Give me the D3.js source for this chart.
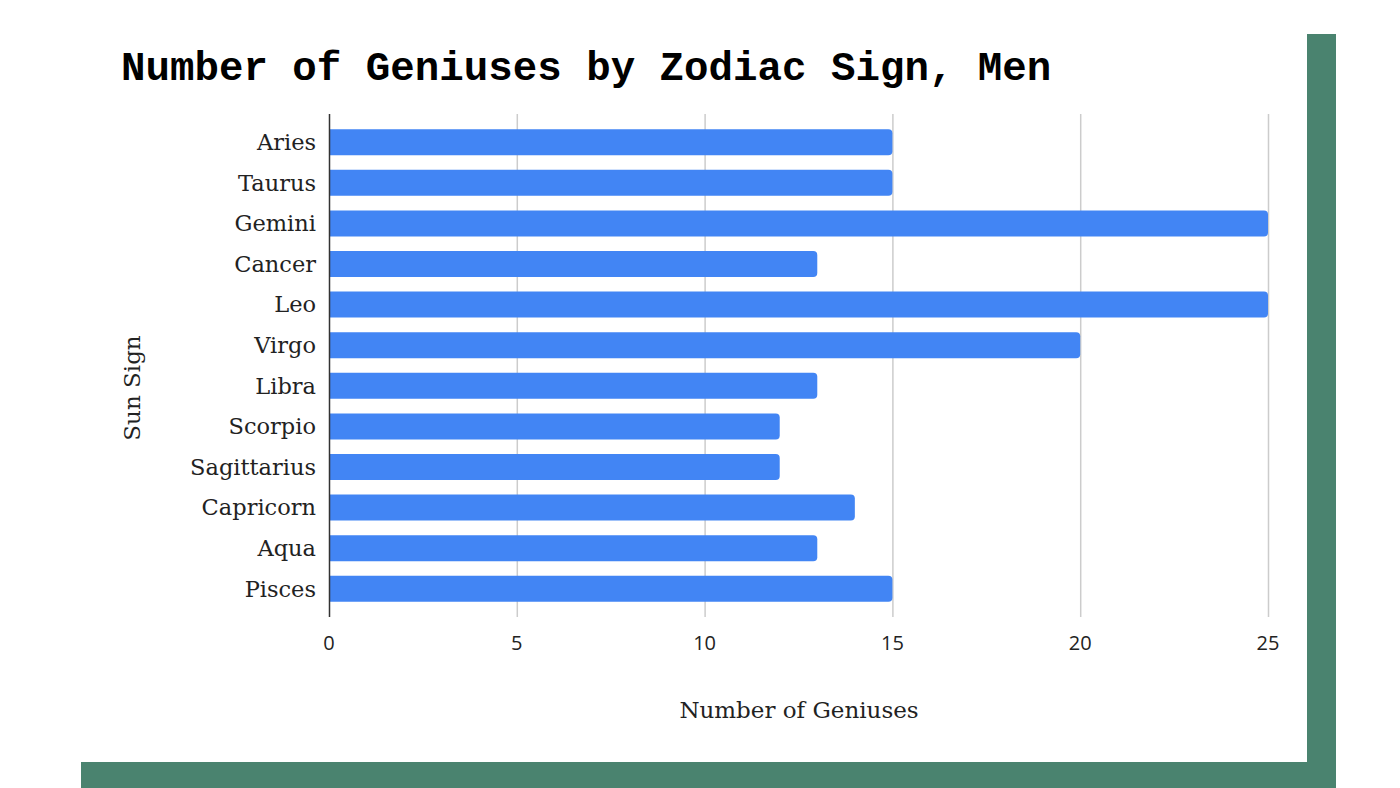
<!DOCTYPE html>
<html>
<head>
<meta charset="utf-8">
<script src="https://cdn.jsdelivr.net/npm/d3@7"></script>
<style>
  body { margin: 0; background: #fff; }
  .cat-label { font-family: "DejaVu Serif", serif; font-size: 22.5px; fill: #222; }
  .tick-label { font-family: "Open Sans", sans-serif; font-size: 20px; fill: #222; }
  .axis-title { font-family: "DejaVu Serif", serif; font-size: 23px; fill: #222; }
  .title { font-family: "Liberation Mono", monospace; font-weight: bold; font-size: 40.8px; fill: #000; }
</style>
</head>
<body>
<div id="chart"></div>
<script>
// data
const signs = ["Aries", "Taurus", "Gemini", "Cancer", "Leo", "Virgo", "Libra",
  "Scorpio", "Sagittarius", "Capricorn", "Aqua", "Pisces"];
const geniuses = [15, 15, 25, 13, 25, 20, 13, 12, 12, 14, 13, 15];
const xTicks = [0, 5, 10, 15, 20, 25];

const W = 1400, H = 788;
const margin = {top: 114, right: 132, bottom: 171, left: 329};

const svg = d3.select("#chart").append("svg")
  .attr("width", W)
  .attr("height", H);

// green frame strips (right and bottom)
const green = "#4a836f";
svg.append("rect").attr("x", 1307).attr("y", 34).attr("width", 29).attr("height", H - 34).attr("fill", green);
svg.append("rect").attr("x", 81).attr("y", 762).attr("width", 1336 - 81).attr("height", H - 762).attr("fill", green);

svg.append("text")
  .attr("class", "title")
  .attr("x", 121)
  .attr("y", 80)
  .text("Number of Geniuses by Zodiac Sign, Men");

const x = d3.scaleLinear()
  .domain([0, 25])
  .range([margin.left, 1268]);

const y = d3.scaleBand()
  .domain(signs)
  .range([margin.top, H - margin.bottom])        // 114 .. 617
  .paddingInner(0.36)
  .paddingOuter(0.375);

// vertical gridlines
svg.append("g")
  .selectAll("line")
  .data(xTicks.filter(d => d > 0))
  .join("line")
  .attr("x1", d => x(d) + 0.5)
  .attr("x2", d => x(d) + 0.5)
  .attr("y1", margin.top)
  .attr("y2", H - margin.bottom)
  .attr("stroke", "#cccccc")
  .attr("stroke-width", 1.5);

// bars with rounded right end
const r = 4;
svg.append("g")
  .selectAll("path")
  .data(signs.map((s, i) => ({sign: s, value: geniuses[i]})))
  .join("path")
  .attr("fill", "#4285f4")
  .attr("d", d => {
    const x0 = x(0) + 1, x1 = x(d.value), y0 = y(d.sign), h = y.bandwidth();
    return `M${x0},${y0} H${x1 - r} Q${x1},${y0} ${x1},${y0 + r} V${y0 + h - r} Q${x1},${y0 + h} ${x1 - r},${y0 + h} H${x0} Z`;
  });

// y axis line
svg.append("line")
  .attr("x1", x(0) + 0.5).attr("x2", x(0) + 0.5)
  .attr("y1", margin.top).attr("y2", H - margin.bottom)
  .attr("stroke", "#333").attr("stroke-width", 1.5);

// category labels
svg.append("g")
  .selectAll("text")
  .data(signs)
  .join("text")
  .attr("class", "cat-label")
  .attr("x", x(0) - 13)
  .attr("y", d => y(d) + y.bandwidth() / 2)
  .attr("dy", "0.35em")
  .attr("text-anchor", "end")
  .text(d => d);

// x tick labels
svg.append("g")
  .selectAll("text")
  .data(xTicks)
  .join("text")
  .attr("class", "tick-label")
  .attr("x", d => x(d))
  .attr("y", 650)
  .attr("text-anchor", "middle")
  .text(d => d);

svg.append("text")
  .attr("class", "axis-title")
  .attr("x", 799)
  .attr("y", 718)
  .attr("text-anchor", "middle")
  .text("Number of Geniuses");

svg.append("text")
  .attr("class", "axis-title")
  .attr("transform", "translate(140,388) rotate(-90)")
  .attr("text-anchor", "middle")
  .text("Sun Sign");
</script>
</body>
</html>
